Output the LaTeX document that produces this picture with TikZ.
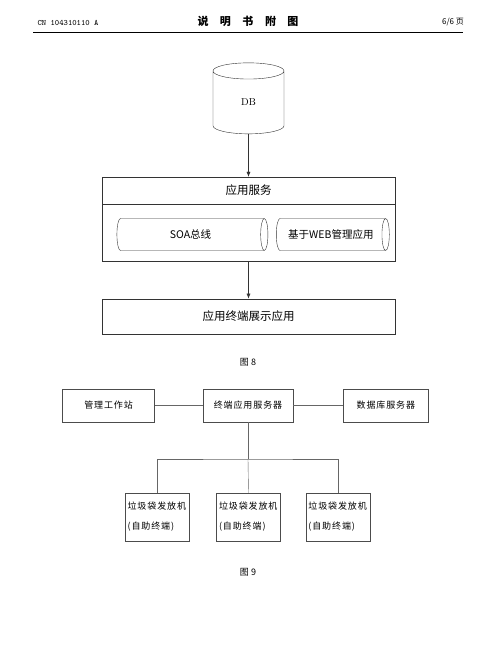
\documentclass[tikz,border=0pt]{standalone}
\usepackage{fontspec}
\newfontfamily\cjk{Noto Sans CJK SC}
\newfontfamily\cjkwide[LetterSpace=10]{Noto Sans CJK SC}
\usetikzlibrary{positioning,arrows.meta,shapes.geometric}

\begin{document}
\begin{tikzpicture}[
  x=1pt, y=1pt,
  box/.style={draw=black!80, inner sep=0pt, align=center, font=\cjk\fontsize{11.5}{14}\selectfont},
  pipe/.style={draw=black!80, cylinder, aspect=0.75, minimum width=32pt, inner sep=0pt, font=\cjk\fontsize{10.5}{13}\selectfont},
  sbox/.style={draw=black!70, inner sep=0pt, minimum height=33pt, align=center, font=\cjkwide\fontsize{9}{11}\selectfont},
  kiosk/.style={draw=black!70, inner xsep=2.5pt, inner ysep=0pt, minimum height=48pt, text width=59pt, align=left, font=\cjkwide\fontsize{9}{20}\selectfont},
  caption/.style={font=\cjk\fontsize{9}{11}\selectfont},
  arr/.style={-{Latex[length=5pt, width=4pt]}, black!80},
  link/.style={black!60},
  ]
  \useasboundingbox (0,0) rectangle (480,-655);

  % page header
  \node (cn) at (68,-22.5) {\ttfamily\fontsize{8.2}{10}\selectfont CN 104310110 A};
  \node (head) at (248,-21) {\cjk\bfseries\fontsize{11}{13}\selectfont 说\hspace{11.5pt}明\hspace{11.5pt}书\hspace{11.5pt}附\hspace{11.5pt}图};
  \node (pg) at (453,-22.5) {\cjk\fontsize{8}{10}\selectfont 6/6 页};
  \draw[line width=0.8pt] (33,-32) -- (463,-32);

  % figure 8
  \node[draw=black!80, cylinder, shape border rotate=90, aspect=1.1, minimum width=71pt, minimum height=71pt, inner sep=0pt,
        font=\fontsize{10}{12}\selectfont] (db) at (248.5,-102.5) {DB};
  \node[box, minimum width=293pt, minimum height=27pt] (svchead) at (248.5,-190.5) {应用服务};
  \node[box, minimum width=293pt, minimum height=57pt, below=0pt of svchead] (svcbody) {};
  \node[pipe, minimum height=151pt] (soa) at (190.5,-234.5) {SOA总线};
  \node[pipe, minimum height=113pt, right=8pt of soa] (web) {基于WEB管理应用};
  \node[box, minimum width=293pt, minimum height=35pt, below=37pt of svcbody] (term) {应用终端展示应用};
  \draw[arr] (db.south) -- (svchead.north);
  \draw[arr] (svcbody.south) -- (term.north);
  \node[caption] (cap8) at (248,-362) {图 8};

  % figure 9
  \node[sbox, minimum width=90pt] (tsrv) at (248,-405.5) {终端应用服务器};
  \node[sbox, minimum width=92pt, left=48pt of tsrv] (mgmt) {管理工作站};
  \node[sbox, minimum width=85pt, right=50pt of tsrv] (dbsrv) {数据库服务器};
  \draw[link] (mgmt) -- (tsrv);
  \draw[link] (tsrv) -- (dbsrv);

  \node[kiosk] (k2) at (248.5,-517) {垃圾袋发放机\\(自助终端)};
  \node[kiosk, left=27pt of k2] (k1) {垃圾袋发放机\\(自助终端)};
  \node[kiosk, right=25pt of k2] (k3) {垃圾袋发放机\\(自助终端)};
  \coordinate (hub) at (248,-459);
  \draw[link] (tsrv.south) -- (hub);
  \draw[link] (k1.north) |- (hub) -| (k3.north);
  \draw[link] (hub) -- (k2.north);
  \node[caption] (cap9) at (248,-572) {图 9};
\end{tikzpicture}
\end{document}
